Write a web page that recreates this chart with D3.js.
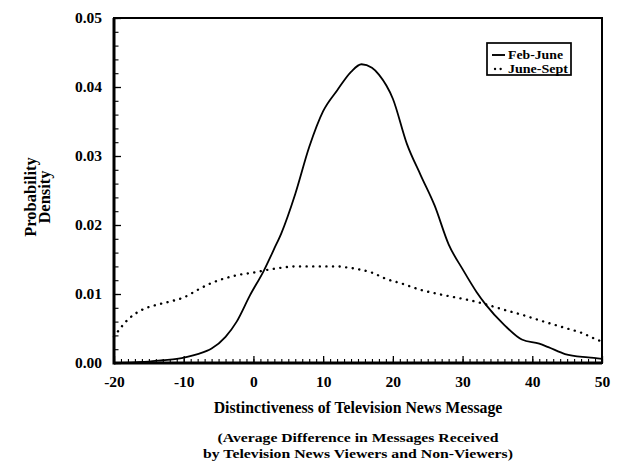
<!DOCTYPE html>
<html>
<head>
<meta charset="utf-8">
<script src="https://cdn.jsdelivr.net/npm/d3@7"></script>
<style>
  body { margin: 0; background: #fff; }
  text { font-family: "Liberation Serif", "DejaVu Serif", serif; font-weight: bold; fill: #000; }
</style>
</head>
<body>
<script>
// Feb-June density (solid)
var febX = [-20, -17, -15, -13, -11, -9.5, -8, -6, -4, -2.4, -0.5, 1.5, 3, 4, 6, 8, 10, 12, 14, 15.5, 17, 18, 20, 22, 24, 26, 28, 30, 32, 33.3, 36, 38.5, 41, 42.3, 44.7, 48, 50];
var febY = [0.0000, 0.0001, 0.0002, 0.0004, 0.0006, 0.0009, 0.0013, 0.0021, 0.0038, 0.0060, 0.0098, 0.0134, 0.0166, 0.0188, 0.0245, 0.0313, 0.0365, 0.0395, 0.0422, 0.0433, 0.0428, 0.0418, 0.0383, 0.0318, 0.0272, 0.0228, 0.0172, 0.0136, 0.0103, 0.0085, 0.0055, 0.0034, 0.0028, 0.0023, 0.0013, 0.0008, 0.0006];

// June-Sept density (dotted)
var junX = [-20, -18, -16, -14, -12, -10, -8, -6, -4, -2, 0, 2, 4, 6, 8, 10, 12, 13, 15, 17, 19, 21, 24, 27, 29, 31, 33, 36, 38.5, 41, 43, 45, 47, 49, 50];
var junY = [0.0038, 0.0063, 0.0077, 0.0084, 0.0089, 0.0095, 0.0106, 0.0116, 0.0123, 0.0128, 0.0131, 0.0135, 0.0138, 0.0140, 0.0140, 0.0140, 0.0140, 0.0139, 0.0136, 0.0131, 0.0122, 0.0116, 0.0106, 0.0099, 0.0095, 0.0091, 0.0086, 0.0077, 0.0070, 0.0062, 0.0056, 0.0050, 0.0044, 0.0035, 0.0031];

var xTicks = [-20, -10, 0, 10, 20, 30, 40, 50];
var yTicks = [0, 0.01, 0.02, 0.03, 0.04, 0.05];
var legendNames = ["Feb-June", "June-Sept"];

var chartMaker = function(){
  var width = 632, height = 468;
  var mLeft = 114, mRight = 602, mTop = 18, mBottom = 363;

  var svg = d3.select("body").append("svg")
    .attr("width", width)
    .attr("height", height);

  var x = d3.scaleLinear().domain([-20, 50]).range([mLeft, mRight]);
  var y = d3.scaleLinear().domain([0, 0.05]).range([mBottom, mTop]);

  // minor ticks
  svg.append("g")
    .attr("transform", "translate(0," + mBottom + ")")
    .call(d3.axisBottom(x).tickValues(d3.range(-20, 51, 1)).tickSize(-4).tickFormat(""))
    .call(function(g){ g.select(".domain").remove(); })
    .selectAll("line").attr("stroke-width", 1.1);

  svg.append("g")
    .attr("transform", "translate(" + mLeft + ",0)")
    .call(d3.axisLeft(y).tickValues(d3.range(0, 0.0501, 0.002)).tickSize(-4.5).tickFormat(""))
    .call(function(g){ g.select(".domain").remove(); })
    .selectAll("line").attr("stroke-width", 1.1);

  // major ticks + labels
  var xAxis = svg.append("g")
    .attr("transform", "translate(0," + mBottom + ")")
    .call(d3.axisBottom(x).tickValues(xTicks).tickSizeInner(-7).tickSizeOuter(0)
      .tickFormat(function(d){ return String(d); }))
    .call(function(g){ g.select(".domain").remove(); });
  xAxis.selectAll("line").attr("stroke-width", 1.3);
  xAxis.selectAll("text")
    .attr("font-size", 15.5)
    .attr("font-family", "Liberation Serif")
    .attr("font-weight", "bold")
    .attr("y", 19)
    .attr("dy", "0.35em");

  var yAxis = svg.append("g")
    .attr("transform", "translate(" + mLeft + ",0)")
    .call(d3.axisLeft(y).tickValues(yTicks).tickSizeInner(-7).tickSizeOuter(0)
      .tickFormat(function(d){ return d.toFixed(2); }))
    .call(function(g){ g.select(".domain").remove(); });
  yAxis.selectAll("line").attr("stroke-width", 1.3);
  yAxis.selectAll("text")
    .attr("x", -12)
    .attr("font-size", 15.5)
    .attr("font-family", "Liberation Serif")
    .attr("font-weight", "bold");

  // frame
  svg.append("rect")
    .attr("x", mLeft).attr("y", mTop)
    .attr("width", mRight - mLeft).attr("height", mBottom - mTop)
    .attr("fill", "none").attr("stroke", "#000").attr("stroke-width", 2);
  svg.append("line").attr("x1", mLeft).attr("x2", mLeft).attr("y1", mTop).attr("y2", mBottom + 1.5)
    .attr("stroke", "#000").attr("stroke-width", 3);
  svg.append("line").attr("x1", mLeft).attr("x2", mRight).attr("y1", mBottom).attr("y2", mBottom)
    .attr("stroke", "#000").attr("stroke-width", 3);

  // curves
  var febData = febX.map(function(d, i){ return [d, febY[i]]; });
  var junData = junX.map(function(d, i){ return [d, junY[i]]; });

  var line = d3.line()
    .x(function(d){ return x(d[0]); })
    .y(function(d){ return y(d[1]); })
    .curve(d3.curveMonotoneX);

  svg.append("path")
    .datum(febData)
    .attr("d", line)
    .attr("fill", "none")
    .attr("stroke", "#000")
    .attr("stroke-width", 1.8);

  svg.append("path")
    .datum(junData)
    .attr("d", line)
    .attr("fill", "none")
    .attr("stroke", "#000")
    .attr("stroke-width", 2.4)
    .attr("stroke-linecap", "round")
    .attr("stroke-dasharray", "0.1,6.5");

  // legend
  var lg = svg.append("g");
  lg.append("rect")
    .attr("x", 487).attr("y", 43).attr("width", 84).attr("height", 32)
    .attr("fill", "#fff").attr("stroke", "#000").attr("stroke-width", 1.7);
  lg.append("line").attr("x1", 492).attr("x2", 505).attr("y1", 55).attr("y2", 55)
    .attr("stroke", "#000").attr("stroke-width", 1.9);
  lg.append("line").attr("x1", 495).attr("x2", 501.5).attr("y1", 69).attr("y2", 69)
    .attr("stroke", "#000").attr("stroke-width", 2.3)
    .attr("stroke-linecap", "round").attr("stroke-dasharray", "0.1,5.5");
  lg.selectAll("text.leg")
    .data(legendNames)
    .enter()
    .append("text")
    .attr("class", "leg")
    .attr("x", 508)
    .attr("y", function(d, i){ return 55 + i * 14; })
    .attr("dy", "0.35em")
    .attr("font-size", 12.5)
    .attr("textLength", function(d, i){ return i === 0 ? 55 : 60; })
    .attr("lengthAdjust", "spacingAndGlyphs")
    .text(function(d){ return d; });

  // axis titles
  svg.append("text")
    .attr("transform", "translate(30,197) rotate(-90)")
    .attr("text-anchor", "middle")
    .attr("dy", "0.35em")
    .attr("font-size", 16.5)
    .text("Probability");
  svg.append("text")
    .attr("transform", "translate(44,197) rotate(-90)")
    .attr("text-anchor", "middle")
    .attr("dy", "0.35em")
    .attr("font-size", 16.5)
    .text("Density");

  svg.append("text")
    .attr("x", 358).attr("y", 407)
    .attr("text-anchor", "middle").attr("dy", "0.35em")
    .attr("font-size", 15.8)
    .text("Distinctiveness of Television News Message");
  svg.append("text")
    .attr("x", 358).attr("y", 437.5)
    .attr("text-anchor", "middle").attr("dy", "0.35em")
    .attr("font-size", 13.5)
    .attr("textLength", 281)
    .attr("lengthAdjust", "spacingAndGlyphs")
    .text("(Average Difference in Messages Received");
  svg.append("text")
    .attr("x", 358).attr("y", 453)
    .attr("text-anchor", "middle").attr("dy", "0.35em")
    .attr("font-size", 13.5)
    .attr("textLength", 310)
    .attr("lengthAdjust", "spacingAndGlyphs")
    .text("by Television News Viewers and Non-Viewers)");
};

chartMaker();
</script>
</body>
</html>
